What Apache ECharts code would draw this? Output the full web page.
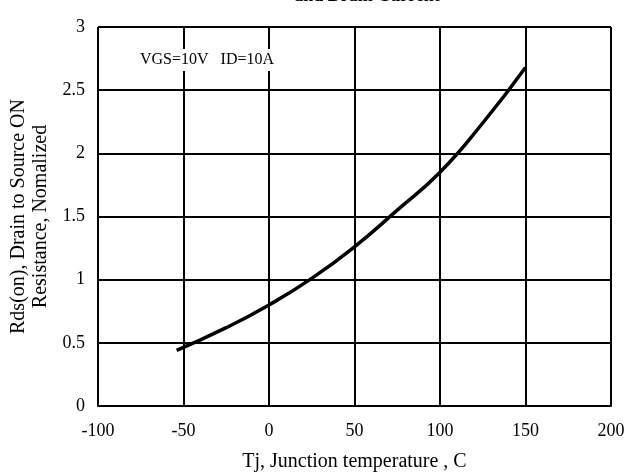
<!DOCTYPE html>
<html>
<head>
<meta charset="utf-8">
<script src="https://cdn.jsdelivr.net/npm/echarts@6/dist/echarts.min.js"></script>
<style>
  html, body { margin: 0; padding: 0; background: #fff; }
  #chart { width: 638px; height: 475px; }
</style>
</head>
<body>
<div id="chart"></div>
<script>
// Tj (C) and normalized Rds(on)
var temps = [-54, -25, 0, 25, 50, 75, 100, 125, 150];
var rdsOn = [0.44, 0.62, 0.80, 1.01, 1.26, 1.55, 1.85, 2.24, 2.68];

var xName = 'Tj, Junction temperature , C';
var yName = 'Rds(on), Drain to Source ON\nResistance, Nomalized';
var note = 'VGS=10V   ID=10A';

var font = '"Liberation Serif", "DejaVu Serif", serif';

var chart = echarts.init(document.getElementById('chart'));
var option = {
    animation: false,
    backgroundColor: '#fff',
    title: [{
        text: 'and Drain Current',
        left: 362,
        top: -18,
        textAlign: 'center',
        textStyle: { fontFamily: font, fontSize: 18, fontWeight: 'bold', color: '#000' }
    }, {
        text: note,
        left: 136,
        top: 49,
        padding: [3, 4],
        backgroundColor: '#fff',
        textStyle: { fontFamily: font, fontSize: 16, fontWeight: 'normal', color: '#000' }
    }],
    grid: { left: 98, right: 27, top: 27, bottom: 69, outerBoundsMode: 'none' },
    xAxis: {
        type: 'value',
        min: -100,
        max: 200,
        interval: 50,
        name: xName,
        nameLocation: 'middle',
        nameGap: 46,
        nameTextStyle: { fontFamily: font, fontSize: 20, color: '#000' },
        axisLine: { show: true, lineStyle: { color: '#000', width: 2 } },
        axisTick: { show: false },
        axisLabel: { fontFamily: font, fontSize: 18, color: '#000', margin: 16 },
        splitLine: { show: true, lineStyle: { color: '#000', width: 2 } }
    },
    yAxis: {
        type: 'value',
        min: 0,
        max: 3,
        interval: 0.5,
        name: yName,
        nameLocation: 'middle',
        nameRotate: 90,
        nameGap: 39,
        nameTextStyle: { fontFamily: font, fontSize: 20, color: '#000', lineHeight: 22 },
        axisLine: { show: true, lineStyle: { color: '#000', width: 2 } },
        axisTick: { show: false },
        axisLabel: { fontFamily: font, fontSize: 18, color: '#000', margin: 13 },
        splitLine: { show: true, lineStyle: { color: '#000', width: 2 } }
    },
    series: [{
        type: 'line',
        data: temps.map(function (t, i) { return [t, rdsOn[i]]; }),
        smooth: 0.5,
        symbol: 'none',
        lineStyle: { color: '#000', width: 3.5 },
        z: 3
    }]
};
chart.setOption(option);
</script>
</body>
</html>
